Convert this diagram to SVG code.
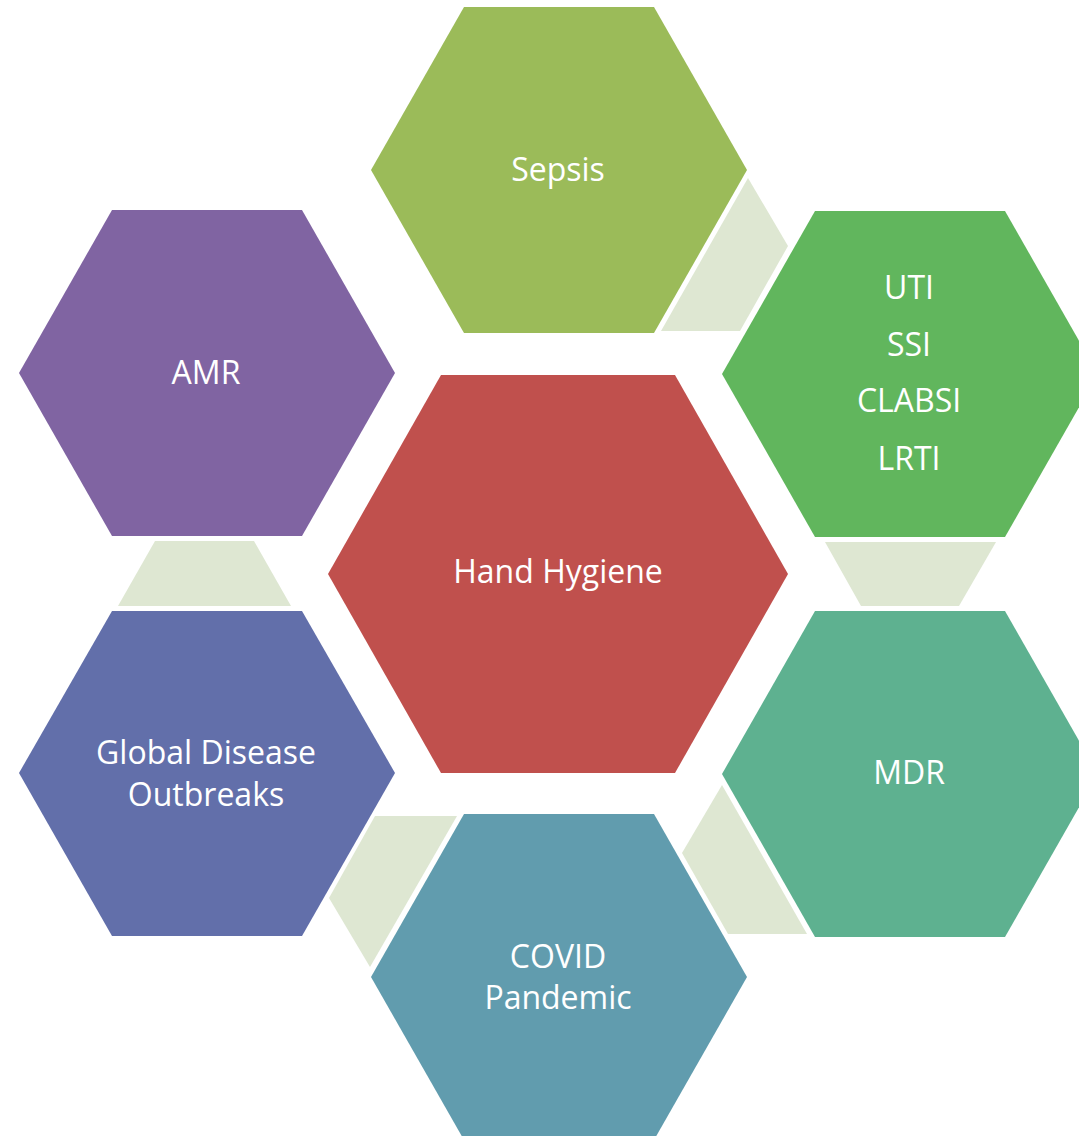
<svg xmlns="http://www.w3.org/2000/svg" width="1079" height="1136" viewBox="0 0 1079 1136">
  <style>
    .lbl { font-family: "Open Sans", "Liberation Sans", sans-serif; font-size: 32px; fill: #FFFFFF; text-anchor: middle; }
    .link { fill: #DEE7D2; }
  </style>
  <rect width="1079" height="1136" fill="#FFFFFF"/>

  <!-- connectors between neighbouring outer cells -->
  <g id="connectors">
    <polygon class="link" points="748,178 788,246 740,331 661,331"/>
    <polygon class="link" points="825,542 996,542 959,606 861,606"/>
    <polygon class="link" points="722,785 682,853 728,934 807,934"/>
    <polygon class="link" points="375,816 457,816 370,967 329,898"/>
    <polygon class="link" points="155,541 254,541 291,606 118,606"/>
  </g>

  <!-- centre cell -->
  <g id="hand-hygiene">
    <polygon points="441,375 675,375 788,574 675,773 441,773 328,574" fill="#C0504D"/>
    <text class="lbl" x="558" y="583">Hand Hygiene</text>
  </g>

  <!-- outer cells: half-width 188, half-height 163, top edge ±95 -->
  <g id="sepsis">
    <polygon points="464,7 654,7 747,170 654,333 464,333 371,170" fill="#9BBB59"/>
    <text class="lbl" x="558" y="181">Sepsis</text>
  </g>

  <g id="hai">
    <polygon points="815,211 1005,211 1098,374 1005,537 815,537 722,374" fill="#61B65D"/>
    <text class="lbl" x="909" y="299">UTI</text>
    <text class="lbl" x="909" y="356">SSI</text>
    <text class="lbl" x="909" y="412">CLABSI</text>
    <text class="lbl" x="909" y="470">LRTI</text>
  </g>

  <g id="mdr">
    <polygon points="815,611 1005,611 1098,774 1005,937 815,937 722,774" fill="#5EB190"/>
    <text class="lbl" x="909" y="784">MDR</text>
  </g>

  <g id="covid">
    <polygon points="464,814 654,814 747,977 654,1140 464,1140 371,977" fill="#619CAE"/>
    <text class="lbl" x="558" y="968">COVID</text>
    <text class="lbl" x="558" y="1009">Pandemic</text>
  </g>

  <g id="global-outbreaks">
    <polygon points="112,611 302,611 395,773 302,936 112,936 19,773" fill="#626FAA"/>
    <text class="lbl" x="206" y="764">Global Disease</text>
    <text class="lbl" x="206" y="806">Outbreaks</text>
  </g>

  <g id="amr">
    <polygon points="112,210 302,210 395,373 302,536 112,536 19,373" fill="#8064A2"/>
    <text class="lbl" x="206" y="384">AMR</text>
  </g>
</svg>
